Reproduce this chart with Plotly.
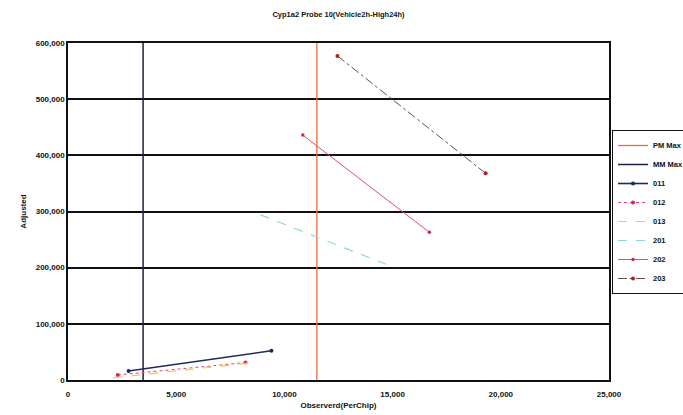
import plotly.graph_objects as go

# Reference lines (Observed values)
pm_max = 11500
mm_max = 3470
y_span = [0, 600000]

# Series: observed (x) and adjusted (y)
obs_011 = [2800, 9400]
adj_011 = [16000, 52000]
obs_012 = [2300, 8200]
adj_012 = [9000, 31000]
obs_013 = [2100, 8300]
adj_013 = [4000, 30000]
obs_201 = [8900, 15100]
adj_201 = [294000, 200000]
obs_202 = [10850, 16700]
adj_202 = [436000, 263000]
obs_203 = [12450, 19300]
adj_203 = [577000, 368000]

x_ticks = [0, 5000, 10000, 15000, 20000, 25000]
y_ticks = [0, 100000, 200000, 300000, 400000, 500000, 600000]

fam = "Liberation Sans, Arial, sans-serif"
fnt = dict(family=fam, size=8, color="#111", weight="bold")

fig = go.Figure()
fig.add_trace(go.Scatter(x=[pm_max, pm_max], y=y_span, mode="lines", name="PM Max",
                         line=dict(color="#f26a3c", width=1.3)))
fig.add_trace(go.Scatter(x=[mm_max, mm_max], y=y_span, mode="lines", name="MM Max",
                         line=dict(color="#1a2440", width=1.5)))
fig.add_trace(go.Scatter(x=obs_011, y=adj_011, mode="lines+markers", name="011",
                         line=dict(color="#1f2a5c", width=1.6),
                         marker=dict(color="#1f2a5c", size=4)))
fig.add_trace(go.Scatter(x=obs_012, y=adj_012, mode="lines+markers", name="012",
                         line=dict(color="#e0457a", width=1, dash="dot"),
                         marker=dict(color="#e0245a", size=4)))
fig.add_trace(go.Scatter(x=obs_013, y=adj_013, mode="lines", name="013",
                         line=dict(color="#f5d020", width=1.2, dash="dash")))
fig.add_trace(go.Scatter(x=obs_201, y=adj_201, mode="lines", name="201",
                         line=dict(color="#8fd6d8", width=1.2, dash="dash")))
fig.add_trace(go.Scatter(x=obs_202, y=adj_202, mode="lines+markers", name="202",
                         line=dict(color="#e04d7a", width=1),
                         marker=dict(color="#d0205a", size=3.5)))
fig.add_trace(go.Scatter(x=obs_203, y=adj_203, mode="lines+markers", name="203",
                         line=dict(color="#6a4a4a", width=1, dash="dashdot"),
                         marker=dict(color="#b02020", size=4)))

fig.update_layout(
    width=683, height=415,
    margin=dict(l=68, r=74, t=43, b=35, autoexpand=False),
    paper_bgcolor="white", plot_bgcolor="white",
    font=fnt,
    title=dict(text="Cyp1a2 Probe 10(Vehicle2h-High24h)", x=(68 + 609) / 2 / 683, xanchor="center",
               y=1 - 14 / 415, yanchor="middle", font=dict(size=7.5, family=fam, weight="bold")),
    showlegend=True,
    legend=dict(x=(612 - 68) / 541, y=(380 - 212) / 337, xanchor="left", yanchor="middle",
                bordercolor="#111", borderwidth=1, bgcolor="white",
                font=dict(size=7.5, family=fam, weight="bold"),
                tracegroupgap=0, itemwidth=30),
)
fig.update_xaxes(range=[0, 25000], tickvals=x_ticks, tickformat=",d", showgrid=False,
                 showline=True, linecolor="#111", linewidth=1.5, mirror=True,
                 zeroline=False, ticks="outside", ticklen=6, tickcolor="rgba(0,0,0,0)",
                 title=dict(text="Observerd(PerChip)", standoff=4, font=dict(size=8, weight="bold")))
fig.update_yaxes(range=[0, 600000], tickvals=y_ticks, tickformat=",d", showgrid=True,
                 gridcolor="#111", gridwidth=2,
                 showline=True, linecolor="#111", linewidth=1.5, mirror=True,
                 zeroline=False, ticks="",
                 title=dict(text="Adjusted", standoff=8, font=dict(size=8, weight="bold")))

fig.write_html("out.html")
